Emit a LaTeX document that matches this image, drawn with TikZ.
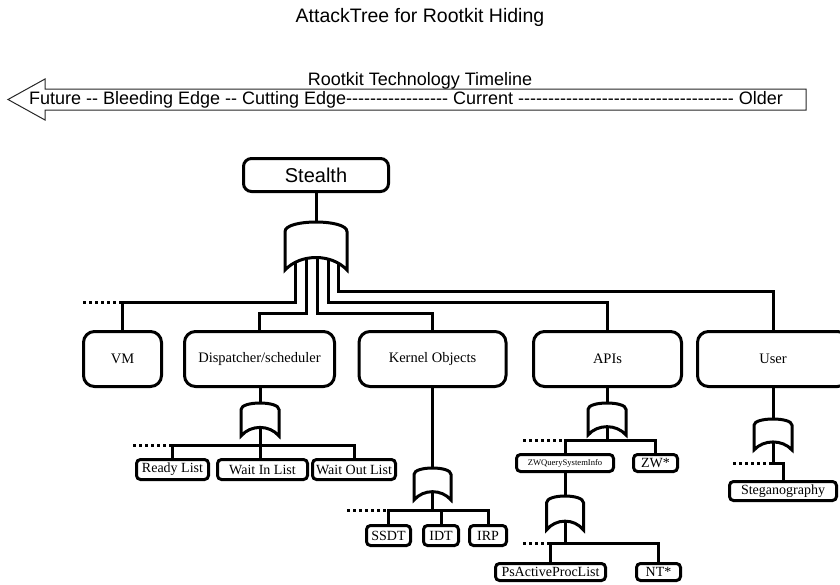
\documentclass[tikz,border=0pt]{standalone}
\usepackage{fontspec}
\setmainfont{Liberation Serif}
\newfontfamily\arialfont{Liberation Sans}
\usetikzlibrary{backgrounds}

\begin{document}
\begin{tikzpicture}[x=1pt,y=-1pt,
  wire/.style={line width=3pt},
  dots/.style={line width=3pt,dash pattern=on 3pt off 3pt},
  topbox/.style={draw,line width=3pt,rounded corners=8pt,minimum width=145pt,minimum height=33pt,inner sep=0pt,font=\arialfont\fontsize{20}{24}\selectfont},
  mainbox/.style={draw,line width=3pt,rounded corners=11pt,minimum height=55pt,inner sep=0pt,font=\fontsize{14.5}{17}\selectfont},
  leaf/.style={draw,line width=3pt,rounded corners=4pt,inner sep=0pt,font=\fontsize{14}{16}\selectfont},
  gateline/.style={line width=3pt,fill=white},
  pics/orgate/.style 2 args={code={
    \draw[gateline] (-#1/2,#2) -- (-#1/2,0.2*#2)
      .. controls (-#1/2,-0.067*#2) and (#1/2,-0.067*#2) .. (#1/2,0.2*#2)
      -- (#1/2,#2) .. controls (#1/4,0.653*#2) and (-#1/4,0.653*#2) .. cycle;
    \coordinate (-top) at (0,0);
    \coordinate (-bot) at (0,0.74*#2);
  }}]
  \useasboundingbox (0,0) rectangle (840,584);
  \clip (0,0) rectangle (840,584);

  % title and timeline
  \node[font=\arialfont\fontsize{19.5}{22}\selectfont] (title) at (420,17) {AttackTree for Rootkit Hiding};
  \draw[line width=1pt,draw=black!85] (806,89) -- (45,89) -- (45,79) -- (8,99.5)
    -- (45,120) -- (45,110) -- (806,110) -- cycle;
  \node[inner sep=0pt,font=\arialfont\fontsize{18}{20}\selectfont] (tlname) at (420,81) {Rootkit Technology Timeline};
  \node[inner sep=0pt,font=\arialfont\fontsize{18}{20}\selectfont] (tltext) at (406,100)
    {Future -- Bleeding Edge -- Cutting Edge----------------- Current ------------------------------------ Older};

  % boxes
  \node[topbox] (stealth) at (316,175) {Stealth};
  \node[mainbox,minimum width=78pt] (vm) at (122.5,359) {VM};
  \node[mainbox,minimum width=150pt] (disp) at (259.5,359) {Dispatcher/scheduler};
  \node[mainbox,minimum width=147pt] (kern) at (432.5,359) {Kernel Objects};
  \node[mainbox,minimum width=148pt] (apis) at (607.5,359) {APIs};
  \node[mainbox,minimum width=151pt] (user) at (773,359) {User};

  \node[leaf,minimum width=72pt,minimum height=20pt] (ready) at (172.5,469.5) {Ready List};
  \node[leaf,minimum width=90pt,minimum height=20pt] (waitin) at (262.5,469.5) {Wait In List};
  \node[leaf,minimum width=83pt,minimum height=20pt] (waitout) at (354,469.5) {Wait Out List};
  \node[leaf,minimum width=44pt,minimum height=20pt] (ssdt) at (388.5,535.5) {SSDT};
  \node[leaf,minimum width=35pt,minimum height=20pt] (idt) at (441,535.5) {IDT};
  \node[leaf,minimum width=37pt,minimum height=20pt] (irp) at (488,535.5) {IRP};
  \node[leaf,minimum width=97pt,minimum height=17pt,font=\fontsize{8.6}{10}\selectfont] (zwq) at (565,463) {ZWQuerySystemInfo};
  \node[leaf,minimum width=44pt,minimum height=17pt] (zw) at (655.5,463) {ZW*};
  \node[leaf,minimum width=110pt,minimum height=17pt] (psa) at (550.5,572) {PsActiveProcList};
  \node[leaf,minimum width=44pt,minimum height=17pt] (nt) at (658.5,572) {NT*};
  \node[leaf,minimum width=107pt,minimum height=19pt] (steg) at (783,491) {Steganography};

  % gates
  \pic (gs) at (316,222) {orgate={62}{48}};
  \pic (gd) at (260,403) {orgate={38}{33}};
  \pic (gk) at (432.5,468) {orgate={37}{32}};
  \pic (ga) at (607,403) {orgate={38}{32}};
  \pic (gz) at (565,496) {orgate={37}{34}};
  \pic (gu) at (773,419) {orgate={38}{31}};

  % joints
  \coordinate (vmjoin) at (vm.north |- 0,302);
  \coordinate (dispjoin) at (disp.north |- 0,313);
  \coordinate (kernjoin) at (kern.north |- 0,313);
  \coordinate (apijoin) at (apis.north |- 0,302);
  \coordinate (userjoin) at (user.north |- 0,291);
  \coordinate (vmdot) at (83,302);
  \coordinate (dbar) at (gd-bot |- 0,445);
  \coordinate (ddot) at (133,445);
  \coordinate (kbar) at (gk-bot |- 0,510);
  \coordinate (kdot) at (347,510);
  \coordinate (abar) at (ga-bot |- 0,440);
  \coordinate (adot) at (523,440);
  \coordinate (zbar) at (gz-bot |- 0,543);
  \coordinate (zdot) at (523,543);
  \coordinate (ubar) at (gu-bot |- 0,463);
  \coordinate (udot) at (733,463);

  \draw[wire] (stealth.south) -- (gs-top);
  \draw[wire] (disp.south -| gd-top) -- (gd-top);
  \draw[wire] (kern.south) -- (gk-top);
  \draw[wire] (apis.south -| ga-top) -- (ga-top);
  \draw[wire] (zwq.south) -- (gz-top);
  \draw[wire] (user.south) -- (gu-top);

  \begin{scope}[on background layer]
    \draw[wire] ([xshift=-21pt]gs-bot) |- (vmjoin) -- (vm);
    \draw[wire] ([xshift=-10pt]gs-bot) |- (dispjoin) -- (disp);
    \draw[wire] ([xshift=1pt]gs-bot) |- (kernjoin) -- (kern);
    \draw[wire] ([xshift=12pt]gs-bot) |- (apijoin) -- (apis);
    \draw[wire] ([xshift=22pt]gs-bot) |- (userjoin) -- (user);

    \draw[wire] (gd-bot) -- (gd-bot |- waitin.north);
    \draw[wire] (ready) |- (dbar) -| (waitout);
    \draw[wire] (gk-bot) -- (kbar);
    \draw[wire] (ssdt) |- (kbar) -| (irp);
    \draw[wire] (idt.north |- kbar) -- (idt);
    \draw[wire] (ga-bot) -- (abar);
    \draw[wire] (zwq) |- (abar) -| (zw);
    \draw[wire] (gz-bot) -- (zbar);
    \draw[wire] (psa) |- (zbar) -| (nt);
    \draw[wire] (gu-bot) -- (ubar) -| (steg);
  \end{scope}

  \draw[dots] (vmdot) -- (vmjoin);
  \draw[dots] (ddot) -- (ready.north |- dbar);
  \draw[dots] (kdot) -- (ssdt.north |- kbar);
  \draw[dots] (adot) -- (zwq.north |- abar);
  \draw[dots] (zdot) -- (psa.north |- zbar);
  \draw[dots] (udot) -- (ubar);
\end{tikzpicture}
\end{document}
